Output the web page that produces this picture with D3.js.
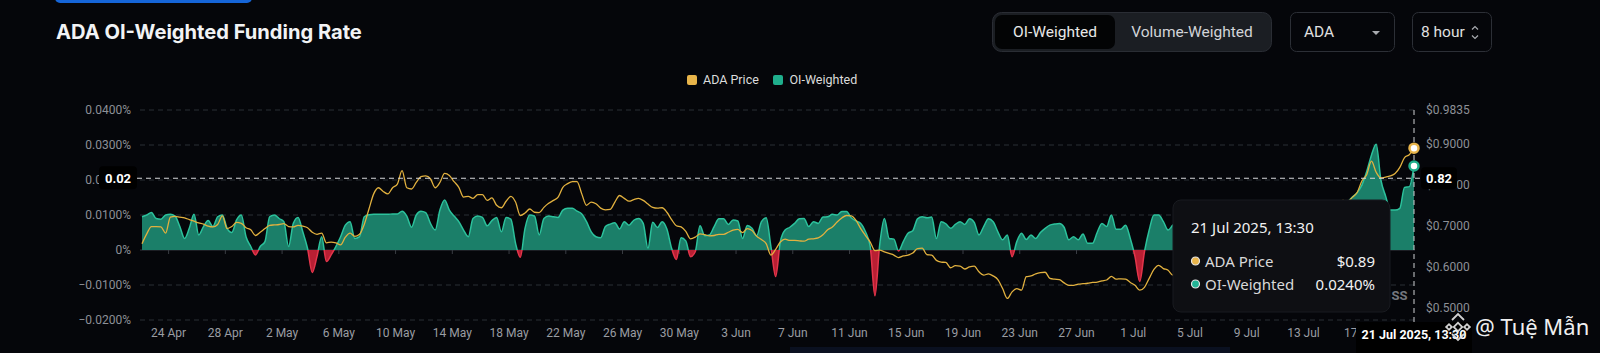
<!DOCTYPE html>
<html><head><meta charset="utf-8">
<script src="https://cdn.jsdelivr.net/npm/d3@7"></script>
<style>
html,body{margin:0;padding:0;background:#05060a;overflow:hidden;}
svg{display:block;}
</style></head><body>
<svg id="c" width="1600" height="353"></svg>
<script>
// ---------- DATA ----------
const startTime = "2025-04-22T21:30:00Z";
const stepHours = 8;

// OI-weighted funding rate (%) every 8h
const oiWeighted = [
 0.0095,0.0100,0.0107,0.0090,0.0088,0.0100,0.0102,0.0097,0.0067,0.0033,
 0.0062,0.0102,0.0043,0.0067,0.0084,0.0067,0.0095,0.0100,0.0062,0.0050,
 0.0086,0.0100,0.0038,0.0010,-0.0014,0.0010,0.0024,0.0095,0.0100,0.0090,
 0.0081,0.0010,0.0076,0.0093,0.0052,0.0005,-0.0064,-0.0019,0.0038,-0.0033,
 -0.0014,0.0010,0.0038,0.0071,0.0081,0.0033,0.0038,0.0095,0.0101,0.0102,
 0.0102,0.0102,0.0102,0.0103,0.0103,0.0111,0.0097,0.0065,0.0100,0.0111,
 0.0107,0.0076,0.0057,0.0114,0.0143,0.0114,0.0097,0.0081,0.0057,0.0038,
 0.0090,0.0097,0.0093,0.0069,0.0084,0.0093,0.0052,0.0093,0.0088,0.0019,
 -0.0021,0.0062,0.0100,0.0097,0.0043,0.0090,0.0097,0.0095,0.0093,0.0114,
 0.0119,0.0119,0.0111,0.0103,0.0081,0.0052,0.0038,0.0035,0.0067,0.0074,
 0.0078,0.0060,0.0081,0.0071,0.0085,0.0090,0.0076,0.0005,0.0079,0.0064,
 0.0081,0.0060,0.0005,-0.0027,0.0035,0.0026,-0.0019,-0.0005,0.0069,0.0041,
 0.0043,0.0067,0.0089,0.0089,0.0073,0.0086,0.0083,0.0033,0.0070,0.0062,
 0.0041,0.0081,0.0092,0.0010,-0.0076,0.0024,0.0057,0.0065,0.0076,0.0089,
 0.0090,0.0067,0.0081,0.0076,0.0094,0.0095,0.0102,0.0100,0.0110,0.0110,
 0.0092,0.0083,0.0076,0.0052,0.0010,-0.0131,0.0014,0.0090,0.0033,0.0031,
 -0.0003,0.0024,0.0048,0.0055,0.0089,0.0095,0.0092,0.0094,0.0033,0.0081,
 0.0075,0.0062,0.0073,0.0081,0.0073,0.0089,0.0079,0.0043,0.0067,0.0089,
 0.0081,0.0052,0.0029,0.0043,-0.0019,0.0024,0.0048,0.0030,0.0043,0.0033,
 0.0050,0.0062,0.0071,0.0074,0.0076,0.0065,0.0029,0.0038,0.0029,0.0046,
 0.0019,0.0019,0.0050,0.0076,0.0067,0.0100,0.0059,0.0059,0.0071,0.0033,
 -0.0019,-0.0090,-0.0005,0.0057,0.0100,0.0100,0.0081,0.0057,0.0071,0.0080,
 0.0092,0.0100,0.0094,0.0085,0.0098,0.0108,0.0104,0.0093,0.0099,0.0110,
 0.0118,0.0112,0.0100,0.0089,0.0097,0.0108,0.0101,0.0094,0.0104,0.0111,
 0.0119,0.0124,0.0116,0.0108,0.0099,0.0093,0.0101,0.0112,0.0121,0.0128,
 0.0122,0.0118,0.0127,0.0133,0.0138,0.0140,0.0152,0.0164,0.0186,0.0224,
 0.0271,0.0302,0.0200,0.0154,0.0114,0.0114,0.0119,0.0179,0.0181,0.0240
];

// ADA price (USD) every 8h
const adaPrice = [
 0.656,0.680,0.698,0.698,0.697,0.682,0.721,0.723,0.721,0.719,
 0.715,0.711,0.707,0.704,0.699,0.697,0.703,0.724,0.693,0.698,
 0.708,0.706,0.695,0.690,0.676,0.684,0.693,0.701,0.702,0.703,
 0.705,0.698,0.697,0.701,0.699,0.695,0.684,0.679,0.682,0.658,
 0.660,0.658,0.653,0.672,0.682,0.674,0.679,0.703,0.741,0.778,
 0.793,0.784,0.778,0.793,0.802,0.835,0.793,0.790,0.806,0.820,
 0.822,0.815,0.793,0.806,0.828,0.823,0.808,0.794,0.770,0.772,
 0.767,0.776,0.776,0.762,0.768,0.750,0.744,0.760,0.772,0.758,
 0.725,0.731,0.741,0.733,0.732,0.745,0.755,0.762,0.770,0.794,
 0.803,0.808,0.808,0.778,0.750,0.758,0.754,0.743,0.739,0.740,
 0.758,0.774,0.767,0.760,0.764,0.767,0.762,0.753,0.745,0.743,
 0.744,0.733,0.715,0.700,0.697,0.686,0.668,0.672,0.680,0.678,
 0.675,0.676,0.679,0.679,0.684,0.689,0.691,0.683,0.693,0.688,
 0.674,0.666,0.656,0.628,0.642,0.660,0.667,0.664,0.664,0.663,
 0.662,0.667,0.668,0.670,0.678,0.690,0.697,0.709,0.719,0.725,
 0.724,0.713,0.693,0.676,0.660,0.639,0.640,0.636,0.632,0.628,
 0.622,0.626,0.628,0.633,0.644,0.645,0.629,0.628,0.615,0.611,
 0.610,0.597,0.602,0.601,0.594,0.599,0.601,0.587,0.579,0.582,
 0.577,0.568,0.546,0.522,0.538,0.546,0.542,0.575,0.577,0.582,
 0.585,0.586,0.571,0.569,0.568,0.560,0.554,0.554,0.557,0.558,
 0.559,0.561,0.562,0.565,0.567,0.576,0.569,0.570,0.569,0.561,
 0.554,0.542,0.549,0.571,0.593,0.603,0.595,0.591,0.579,0.584,
 0.590,0.597,0.601,0.606,0.614,0.621,0.627,0.633,0.640,0.646,
 0.650,0.657,0.664,0.671,0.677,0.684,0.690,0.694,0.700,0.706,
 0.711,0.716,0.722,0.726,0.729,0.733,0.737,0.740,0.744,0.747,
 0.750,0.753,0.756,0.759,0.762,0.760,0.770,0.782,0.810,0.825,
 0.858,0.831,0.817,0.819,0.822,0.828,0.843,0.867,0.874,0.890
];

const rateTicks = [-0.02, -0.01, 0, 0.01, 0.02, 0.03, 0.04];
const rateDomain = [-0.02, 0.04];
const priceTicks = [0.5, 0.6, 0.7, 0.8, 0.9, 0.9835];
const priceDomain = [0.469, 0.9835];
const dateTicks = [
 "2025-04-24T18:30:00Z","2025-04-28T18:30:00Z","2025-05-02T18:30:00Z","2025-05-06T18:30:00Z",
 "2025-05-10T18:30:00Z","2025-05-14T18:30:00Z","2025-05-18T18:30:00Z","2025-05-22T18:30:00Z",
 "2025-05-26T18:30:00Z","2025-05-30T18:30:00Z","2025-06-03T18:30:00Z","2025-06-07T18:30:00Z",
 "2025-06-11T18:30:00Z","2025-06-15T18:30:00Z","2025-06-19T18:30:00Z","2025-06-23T18:30:00Z",
 "2025-06-27T18:30:00Z","2025-07-01T18:30:00Z","2025-07-05T18:30:00Z","2025-07-09T18:30:00Z",
 "2025-07-13T18:30:00Z","2025-07-17T18:30:00Z"
];
const dateTickLabels = ["24 Apr","28 Apr","2 May","6 May","10 May","14 May","18 May","22 May",
 "26 May","30 May","3 Jun","7 Jun","11 Jun","15 Jun","19 Jun","23 Jun","27 Jun","1 Jul",
 "5 Jul","9 Jul","13 Jul","17 Jul"];

const titleText = "ADA OI-Weighted Funding Rate";
const seriesNames = ["ADA Price", "OI-Weighted"];
const tooltipDate = "21 Jul 2025, 13:30";
const tooltipValues = ["$0.89", "0.0240%"];
const crosshairRate = 0.0205;
const crosshairLabels = ["0.02", "0.82"];

// ---------- BUILD ----------
const t0 = new Date(startTime).getTime();
const data = oiWeighted.map((v, i) => ({
  t: new Date(t0 + i * stepHours * 3600e3), oi: v, price: adaPrice[i]
}));

const C = {
  bg: "#05060a", grid: "#2b2e35", axisText: "#8d9097",
  green: "#1b7f69", greenLine: "#2cc29c", red: "#b91f33", redLine: "#e3354b",
  price: "#e2b13f", legendGreen: "#1fae8c", legendYellow: "#e8b44a"
};
const F = "Roboto, 'Noto Sans', sans-serif";

const svg = d3.select("#c");
svg.append("rect").attr("width", 1600).attr("height", 353).attr("fill", C.bg);

const plot = {left: 142, right: 1414, top: 110, bottom: 320};
const x = d3.scaleTime().domain([data[0].t, data[data.length - 1].t]).range([plot.left, plot.right]);
const yL = d3.scaleLinear().domain(rateDomain).range([plot.bottom, plot.top]);
const yR = d3.scaleLinear().domain(priceDomain).range([plot.bottom, plot.top]);

// top blue tab
svg.append("rect").attr("x", 55).attr("y", -8).attr("width", 197).attr("height", 11)
  .attr("rx", 5).attr("fill", "#1565d8");

// title
const title = svg.append("text").attr("x", 56).attr("y", 39).text(titleText)
  .attr("font-family", "Inter, 'Noto Sans', sans-serif").attr("font-weight", 700)
  .attr("font-size", 19).attr("fill", "#f2f3f5");
const tl = title.node().getComputedTextLength();
title.attr("font-size", 19 * 306 / tl);

// header controls
const hdr = svg.append("g").attr("font-family", F).attr("font-size", 15.5);
hdr.append("rect").attr("x", 992.5).attr("y", 12.5).attr("width", 279).attr("height", 39)
  .attr("rx", 9).attr("fill", "#1b1e23").attr("stroke", "#2a2d34");
hdr.append("rect").attr("x", 995).attr("y", 15).attr("width", 120).attr("height", 34)
  .attr("rx", 7).attr("fill", "#030405");
hdr.append("text").attr("x", 1055).attr("y", 32).attr("dy", "0.35em").attr("text-anchor", "middle")
  .attr("fill", "#e8e8e8").text("OI-Weighted");
hdr.append("text").attr("x", 1192).attr("y", 32).attr("dy", "0.35em").attr("text-anchor", "middle")
  .attr("fill", "#d2d4d8").text("Volume-Weighted");
hdr.append("rect").attr("x", 1290.5).attr("y", 12.5).attr("width", 104).attr("height", 39)
  .attr("rx", 6).attr("fill", C.bg).attr("stroke", "#2c2f36");
hdr.append("text").attr("x", 1304).attr("y", 32).attr("dy", "0.35em").attr("fill", "#e0e0e0").text("ADA");
hdr.append("path").attr("d", "M1372,31 L1380,31 L1376,35 Z").attr("fill", "#a9abb0");
hdr.append("rect").attr("x", 1412.5).attr("y", 12.5).attr("width", 79).attr("height", 39)
  .attr("rx", 6).attr("fill", C.bg).attr("stroke", "#2c2f36");
hdr.append("text").attr("x", 1421).attr("y", 32).attr("dy", "0.35em").attr("fill", "#e0e0e0").text("8 hour");
hdr.append("path").attr("d", "M1472,29.5 L1475,26.5 L1478,29.5 M1472,35.5 L1475,38.5 L1478,35.5")
  .attr("fill", "none").attr("stroke", "#a9abb0").attr("stroke-width", 1.2);

// legend
const lg = svg.append("g").attr("font-family", F).attr("font-size", 12.5);
[[687, C.legendYellow, 703, seriesNames[0]], [773, C.legendGreen, 789.5, seriesNames[1]]].forEach(d => {
  lg.append("rect").attr("x", d[0]).attr("y", 75).attr("width", 10).attr("height", 10).attr("rx", 2).attr("fill", d[1]);
  lg.append("text").attr("x", d[2]).attr("y", 80).attr("dy", "0.35em").attr("fill", "#dcdcdc").text(d[3]);
});

// grid lines
const grid = svg.append("g");
rateTicks.forEach(v => {
  grid.append("line").attr("x1", plot.left - 2).attr("x2", plot.right + 1)
    .attr("y1", yL(v)).attr("y2", yL(v))
    .attr("stroke", v === 0 ? "#34373e" : C.grid).attr("stroke-width", 1)
    .attr("stroke-dasharray", v === 0 ? null : "5,4");
});

// left axis labels
const fmtRate = v => v === 0 ? "0%" : d3.format(".4f")(v) + "%";
svg.append("g").attr("font-family", F).attr("font-size", 12).attr("fill", C.axisText)
  .selectAll("text").data(rateTicks).join("text")
  .attr("x", 131).attr("y", d => yL(d)).attr("dy", "0.35em").attr("text-anchor", "end")
  .text(fmtRate);

// right axis labels
svg.append("g").attr("font-family", F).attr("font-size", 12).attr("fill", C.axisText)
  .selectAll("text").data(priceTicks).join("text")
  .attr("x", 1426).attr("y", d => yR(d)).attr("dy", "0.35em")
  .text(d => "$" + d3.format(".4f")(d));

// x ticks and labels
const tickT = dateTicks.map(s => new Date(s));
svg.append("g").selectAll("line").data(tickT).join("line")
  .attr("x1", d => x(d)).attr("x2", d => x(d)).attr("y1", yL(0)).attr("y2", yL(0) + 4)
  .attr("stroke", "#3a3d44");
svg.append("g").attr("font-family", F).attr("font-size", 12).attr("fill", "#9a9da3")
  .selectAll("text").data(tickT).join("text")
  .attr("x", d => x(d)).attr("y", 333).attr("dy", "0.35em").attr("text-anchor", "middle")
  .text((d, i) => dateTickLabels[i]);

// clip paths
const defs = svg.append("defs");
defs.append("clipPath").attr("id", "pos").append("rect")
  .attr("x", 0).attr("y", 0).attr("width", 1600).attr("height", yL(0));
defs.append("clipPath").attr("id", "neg").append("rect")
  .attr("x", 0).attr("y", yL(0)).attr("width", 1600).attr("height", 353 - yL(0));

const area = d3.area().x(d => x(d.t)).y0(yL(0)).y1(d => yL(d.oi)).curve(d3.curveMonotoneX);
const oiLine = d3.line().x(d => x(d.t)).y(d => yL(d.oi)).curve(d3.curveMonotoneX);
const pLine = d3.line().x(d => x(d.t)).y(d => yR(d.price)).curve(d3.curveMonotoneX);

svg.append("path").datum(data).attr("d", area).attr("fill", C.green).attr("clip-path", "url(#pos)");
svg.append("path").datum(data).attr("d", area).attr("fill", C.red).attr("clip-path", "url(#neg)");
svg.append("path").datum(data).attr("d", oiLine).attr("fill", "none").attr("stroke", C.greenLine)
  .attr("stroke-width", 1.5).attr("clip-path", "url(#pos)");
svg.append("path").datum(data).attr("d", oiLine).attr("fill", "none").attr("stroke", C.redLine)
  .attr("stroke-width", 1.5).attr("clip-path", "url(#neg)");
svg.append("path").datum(data).attr("d", pLine).attr("fill", "none").attr("stroke", C.price)
  .attr("stroke-width", 1.3);

// crosshair
const last = data[data.length - 1];
const cx = x(last.t), cy = yL(crosshairRate);
svg.append("line").attr("x1", cx).attr("x2", cx).attr("y1", plot.top).attr("y2", 323)
  .attr("stroke", "#cfd0d3").attr("stroke-dasharray", "5,4");
svg.append("line").attr("x1", 137).attr("x2", 1421).attr("y1", cy).attr("y2", cy)
  .attr("stroke", "#d6d7da").attr("stroke-dasharray", "5,4");

// crosshair labels
const cl = svg.append("g").attr("font-family", F).attr("font-weight", 700).attr("fill", "#fff");
cl.append("rect").attr("x", 99).attr("y", cy - 12).attr("width", 38).attr("height", 23).attr("rx", 4).attr("fill", "#000");
cl.append("text").attr("x", 118).attr("y", cy).attr("dy", "0.35em").attr("text-anchor", "middle")
  .attr("font-size", 13).text(crosshairLabels[0]);
cl.append("rect").attr("x", 1421).attr("y", cy - 11).attr("width", 36).attr("height", 22).attr("rx", 4).attr("fill", "#000");
cl.append("text").attr("x", 1439).attr("y", cy).attr("dy", "0.35em").attr("text-anchor", "middle")
  .attr("font-size", 13).text(crosshairLabels[1]);
cl.append("rect").attr("x", cx - 58).attr("y", 322).attr("width", 116).attr("height", 34).attr("rx", 3).attr("fill", "#000");
cl.append("text").attr("x", cx).attr("y", 335).attr("dy", "0.35em").attr("text-anchor", "middle")
  .attr("font-size", 12.5).text(tooltipDate);

// tooltip
const tt = svg.append("g").attr("font-family", "'Noto Sans', 'Open Sans', sans-serif");
tt.append("rect").attr("x", 1173).attr("y", 200).attr("width", 217).attr("height", 112).attr("rx", 8)
  .attr("fill", "#0e0f13").attr("stroke", "#191b20");
tt.append("text").attr("x", 1191).attr("y", 232.5).attr("font-size", 15).attr("fill", "#f2f2f2").text(tooltipDate);
[[261, C.legendYellow, seriesNames[0], tooltipValues[0]], [284, "#22b596", seriesNames[1], tooltipValues[1]]].forEach(r => {
  tt.append("circle").attr("cx", 1195.5).attr("cy", r[0]).attr("r", 4).attr("fill", r[1]).attr("stroke", "#e6e6e6").attr("stroke-width", 1.2);
  tt.append("text").attr("x", 1205).attr("y", r[0] + 5.5).attr("font-size", 15).attr("fill", "#d9d9d9").text(r[2]);
  tt.append("text").attr("x", 1375).attr("y", r[0] + 5.5).attr("font-size", 15).attr("text-anchor", "end")
    .attr("fill", "#f2f2f2").text(r[3]);
});
svg.append("text").attr("x", 1391.5).attr("y", 299.5).attr("font-family", F).attr("font-weight", 700)
  .attr("font-size", 13).attr("fill", "#74777e").text("SS");

// end markers
svg.append("circle").attr("cx", cx).attr("cy", yR(last.price)).attr("r", 4.5)
  .attr("fill", "#fff").attr("stroke", C.legendYellow).attr("stroke-width", 2.5);
svg.append("circle").attr("cx", cx).attr("cy", yL(last.oi)).attr("r", 4.5)
  .attr("fill", "#fff").attr("stroke", "#1fae8c").attr("stroke-width", 2.5);

// bottom band
svg.append("rect").attr("x", 790).attr("y", 347).attr("width", 440).attr("height", 6).attr("fill", "#0a1020");

// watermark (logo + text)
const wm = svg.append("g").attr("transform", "translate(1458,327)").attr("fill", "none")
  .attr("stroke", "#e8e8e8").attr("stroke-width", 1.8).attr("opacity", 0.9);
[[0,0,6],[-9,0,4],[9,0,4]].forEach(s => {
  wm.append("rect").attr("x", s[0] - s[2] / 2).attr("y", s[1] - s[2] / 2).attr("width", s[2]).attr("height", s[2])
    .attr("transform", `rotate(45 ${s[0]} ${s[1]})`);
});
wm.append("path").attr("d", "M-6,-7 L0,-13 L6,-7 M-6,7 L0,13 L6,7");
svg.append("text").attr("x", 1475).attr("y", 335).attr("font-family", "'Noto Sans', sans-serif")
  .attr("font-size", 22).attr("fill", "#f0f0f0").text("@ Tuệ Mẫn");
</script>
</body></html>
